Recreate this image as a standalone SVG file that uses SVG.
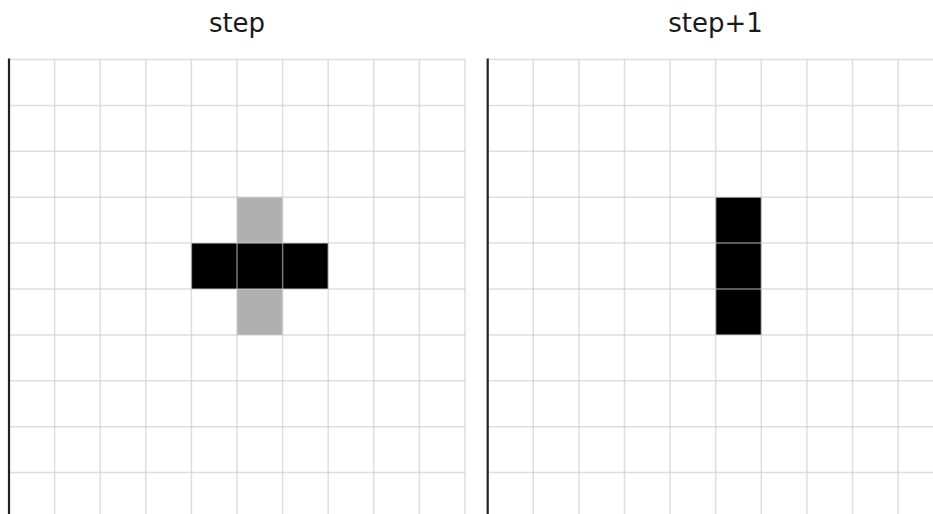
<svg xmlns="http://www.w3.org/2000/svg" width="933" height="514" viewBox="0 0 933 514">
<defs>
<style>
.title{font-family:"DejaVu Sans",sans-serif;font-size:26px;fill:#1a1a1a;text-anchor:middle}
.grid{stroke:#c8c8c8;stroke-opacity:0.6;stroke-width:1.5;fill:none}
.spine{stroke:#222;stroke-width:2.2}
.on{fill:#000}
.dead{fill:#b0b0b0}
</style>
<pattern id="g" x="9" y="59.5" width="45.6" height="45.9" patternUnits="userSpaceOnUse">
<path d="M0 0H45.6M0 0V45.9" class="grid"/>
</pattern>
</defs>
<rect width="933" height="514" fill="#fff"/>
<g id="panel-step">
<text class="title" x="237" y="32">step</text>
<rect class="dead" x="237" y="197.2" width="45.6" height="45.9"/>
<rect class="dead" x="237" y="289" width="45.6" height="45.9"/>
<rect class="on" x="191.4" y="243.1" width="136.8" height="45.9"/>
<g class="grid">
<path d="M9 59.5H465M9 105.4H465M9 151.3H465M9 197.2H465M9 243.1H465M9 289H465M9 334.9H465M9 380.8H465M9 426.7H465M9 472.6H465"/>
<path d="M54.6 59.5V514M100.2 59.5V514M145.8 59.5V514M191.4 59.5V514M237 59.5V514M282.6 59.5V514M328.2 59.5V514M373.8 59.5V514M419.4 59.5V514M465 59.5V514"/>
</g>
<line class="spine" x1="9" y1="58.5" x2="9" y2="514"/>
</g>
<g id="panel-step1">
<text class="title" x="715.5" y="32">step+1</text>
<rect class="on" x="715.7" y="197.2" width="45.6" height="137.7"/>
<g class="grid">
<path d="M487.7 59.5H933M487.7 105.4H933M487.7 151.3H933M487.7 197.2H933M487.7 243.1H933M487.7 289H933M487.7 334.9H933M487.7 380.8H933M487.7 426.7H933M487.7 472.6H933"/>
<path d="M533.3 59.5V514M578.9 59.5V514M624.5 59.5V514M670.1 59.5V514M715.7 59.5V514M761.3 59.5V514M806.9 59.5V514M852.5 59.5V514M898.1 59.5V514"/>
</g>
<line class="spine" x1="487.7" y1="58.5" x2="487.7" y2="514"/>
</g>
</svg>
